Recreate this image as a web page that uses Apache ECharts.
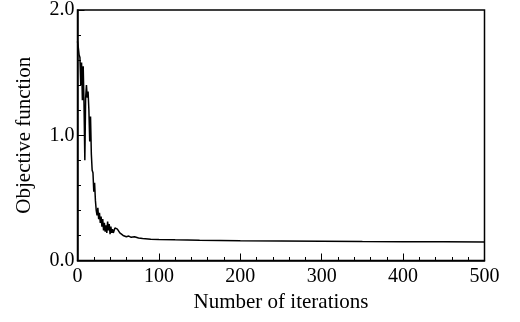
<!DOCTYPE html>
<html><head><meta charset="utf-8">
<script src="https://cdn.jsdelivr.net/npm/echarts@6/dist/echarts.min.js"></script>
<style>html,body{margin:0;padding:0;background:#fff}#c{width:520px;height:322px}</style>
</head><body><div id="c"></div>
<script>
const iterations = [0,1,2,3,4,5,6,7,8,9,10,11,12,13,14,15,16,17,18,19,20,21,22,23,24,25,26,27,28,29,30,31,32,33,34,35,36,37,38,39,40,41,42,43,44,45,46,47,48,49,50,52,54,56,58,60,63,66,70,75,80,90,100,120,150,200,250,300,350,400,450,500];
const objective = [1.75,1.70,1.64,1.62,1.40,1.58,1.28,1.55,1.25,0.80,1.30,1.40,1.30,1.35,1.20,0.95,1.15,0.85,0.72,0.70,0.55,0.62,0.48,0.40,0.36,0.42,0.33,0.38,0.30,0.35,0.27,0.33,0.24,0.30,0.23,0.28,0.22,0.31,0.24,0.29,0.21,0.27,0.22,0.25,0.22,0.24,0.26,0.27,0.26,0.25,0.24,0.22,0.21,0.20,0.195,0.19,0.195,0.185,0.19,0.18,0.175,0.17,0.168,0.165,0.162,0.158,0.155,0.153,0.151,0.150,0.149,0.148];
const xTicks = [0,100,200,300,400,500];
const yTicks = [0.0,1.0,2.0];

const chart = echarts.init(document.getElementById('c'), null, {renderer:'canvas'});
const font = 'Liberation Serif';
chart.setOption({
  animation:false,
  grid:{left:77.5,right:35.5,top:6.5,bottom:61.5,show:true,borderColor:'#000',borderWidth:1.5,backgroundColor:'transparent'},
  xAxis:{type:'value',min:0,max:500,interval:100,
    name:'Number of iterations',nameLocation:'middle',nameGap:31,
    nameTextStyle:{fontFamily:font,fontSize:21,color:'#000'},
    axisLine:{lineStyle:{color:'#000',width:1.5}},
    axisTick:{inside:true,length:7,lineStyle:{color:'#000',width:1}},
    minorTick:{show:true,splitNumber:5,length:3.5,lineStyle:{color:'#000',width:1}},
    splitLine:{show:false},
    axisLabel:{fontFamily:font,fontSize:20,color:'#000',margin:6,
      formatter:v=>xTicks.includes(v)?String(v):''}
  },
  yAxis:{type:'value',min:0,max:2,interval:1,
    name:'Objective function',nameLocation:'middle',nameGap:43,nameRotate:90,
    nameTextStyle:{fontFamily:font,fontSize:21,color:'#000'},
    axisLine:{show:true,lineStyle:{color:'#000',width:1.5}},
    axisTick:{show:true,inside:true,length:7,lineStyle:{color:'#000',width:1}},
    minorTick:{show:true,splitNumber:5,length:3.5,lineStyle:{color:'#000',width:1}},
    splitLine:{show:false},
    axisLabel:{fontFamily:font,fontSize:20,color:'#000',margin:3,
      formatter:v=>{const t=yTicks.find(a=>Math.abs(a-v)<1e-9);return t===undefined?'':t.toFixed(1);}}
  },
  series:[{type:'line',data:iterations.map((x,i)=>[x,objective[i]]),
    showSymbol:false,symbol:'none',lineStyle:{color:'#000',width:1.5}}]
});
</script></body></html>
